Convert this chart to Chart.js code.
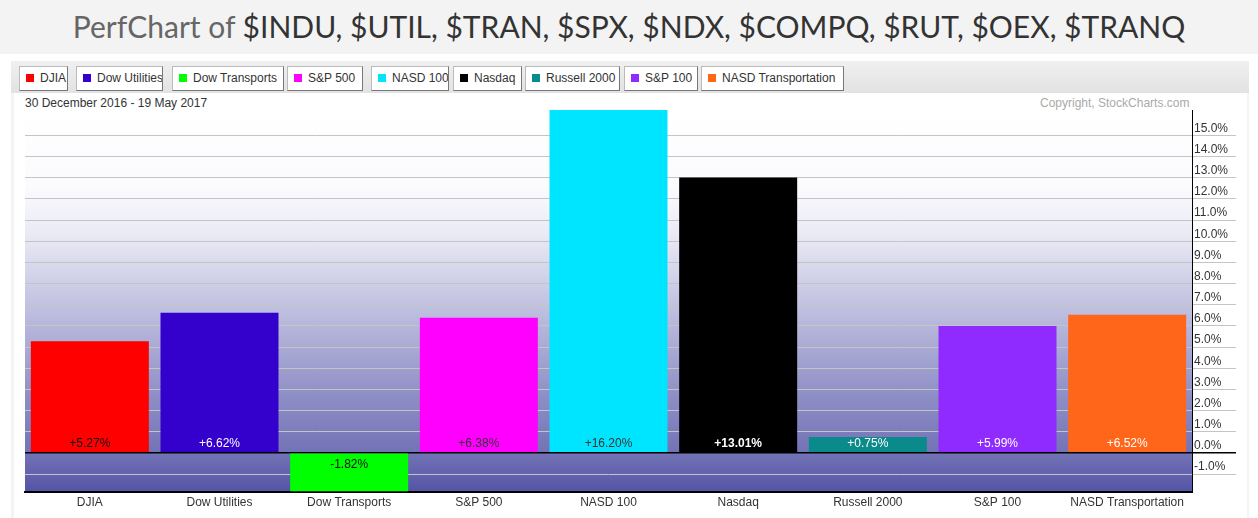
<!DOCTYPE html>
<html>
<head>
<meta charset="utf-8">
<script src="https://cdn.jsdelivr.net/npm/chart.js@4.4.1/dist/chart.umd.min.js"></script>
<style>
  html, body { margin:0; padding:0; width:1258px; height:518px; overflow:hidden; background:#fff; font-family:"Liberation Sans", Arial, sans-serif; }
  #top { position:absolute; left:0; top:0; width:1258px; height:54px; background:#f3f3f3; }
  #title { position:absolute; left:0; top:0; width:1258px; height:54px; line-height:52px; text-align:center; font-family:Lato, sans-serif; font-size:30px; color:#666; white-space:nowrap; }
  #title span { color:#333; }
  #panel { position:absolute; left:11px; top:61px; width:1238px; height:457px; background:#f4f4f4; }
  #panelInner { position:absolute; left:14px; top:93px; width:1233px; height:425px; background:#fff; }
  #legend { position:absolute; left:11px; top:61px; width:1238px; height:32px; background:linear-gradient(#f0f0f0,#e2e2e2); }
  .btn { position:absolute; top:5px; height:23px; background:#fff; border:1px solid #bbb; border-right-color:#777; border-bottom-color:#777; font-size:12px; color:#333; line-height:23px; box-sizing:content-box; white-space:nowrap; overflow:hidden; }
  .btn i { display:inline-block; width:8px; height:8px; margin:0 6px 0 6px; vertical-align:0px; }
  #date { position:absolute; left:25px; top:96px; font-size:12px; color:#333; }
  #copy { position:absolute; left:1040px; top:96px; font-size:12px; color:#aaa; }
  canvas { position:absolute; left:0; top:0; }
</style>
</head>
<body>
<div id="top"></div>
<div id="title">PerfChart of <span>$INDU, $UTIL, $TRAN, $SPX, $NDX, $COMPQ, $RUT, $OEX, $TRANQ</span></div>
<div id="panel"></div>
<div id="panelInner"></div>
<div id="legend"></div>
<div id="date">30 December 2016 - 19 May 2017</div>
<div id="copy">Copyright, StockCharts.com</div>
<canvas id="c" width="1258" height="518"></canvas>
<script>
// ---- data ----
const categories = ["DJIA", "Dow Utilities", "Dow Transports", "S&P 500", "NASD 100", "Nasdaq", "Russell 2000", "S&P 100", "NASD Transportation"];
const performance = [5.27, 6.62, -1.82, 6.38, 16.20, 13.01, 0.75, 5.99, 6.52];
const barColors = ["#ff0000", "#3300cc", "#00ff00", "#ff00ff", "#00e5ff", "#000000", "#0a8a8a", "#902bff", "#ff6619"];
const labelColors = ["#111", "#fff", "#111", "#333", "#333", "#fff", "#fff", "#fff", "#fff"];
const yTickValues = [-1, 0, 1, 2, 3, 4, 5, 6, 7, 8, 9, 10, 11, 12, 13, 14, 15];
const dateRange = "30 December 2016 - 19 May 2017";

// ---- legend (HTML buttons) ----
const legendLeft = [19, 76, 172, 287, 371, 453, 525, 624, 701];
const legendWidth = [47, 85, 110, 74, 76, 67, 93, 72, 141];
const legend = document.getElementById('legend');
categories.forEach((name, i) => {
  const b = document.createElement('div');
  b.className = 'btn';
  b.style.left = (legendLeft[i] - 11) + 'px';
  b.style.width = legendWidth[i] + 'px';
  const sq = document.createElement('i');
  sq.style.background = barColors[i];
  b.appendChild(sq);
  b.appendChild(document.createTextNode(name));
  legend.appendChild(b);
});
document.getElementById('date').textContent = dateRange;

// ---- plugins ----
const bgPlugin = {
  id: 'bg',
  beforeDraw(chart) {
    const {ctx, chartArea: a} = chart;
    const g = ctx.createLinearGradient(0, a.top, 0, a.bottom);
    g.addColorStop(0, '#ffffff');
    g.addColorStop(0.2, '#fbfbfe');
    g.addColorStop(0.33, '#e9e9f5');
    g.addColorStop(0.5, '#c4c4e2');
    g.addColorStop(0.75, '#8e8ec6');
    g.addColorStop(0.9, '#7272b6');
    g.addColorStop(1, '#5454a6');
    ctx.save();
    ctx.fillStyle = g;
    ctx.fillRect(a.left, a.top, a.right - a.left, a.bottom - a.top);
    ctx.restore();
  }
};
const valueLabels = {
  id: 'valueLabels',
  afterDatasetsDraw(chart) {
    const {ctx} = chart;
    const meta = chart.getDatasetMeta(0);
    ctx.save();
    ctx.textAlign = 'center';
    ctx.textBaseline = 'middle';
    meta.data.forEach((bar, i) => {
      const v = performance[i];
      const txt = (v >= 0 ? '+' : '') + v.toFixed(2) + '%';
      ctx.font = (i === 5 ? 'bold ' : '') + '12px "Liberation Sans", Arial, sans-serif';
      ctx.fillStyle = labelColors[i];
      const y = v >= 0 ? bar.base - 8 : bar.base + 11;
      ctx.fillText(txt, bar.x, y);
    });
    ctx.restore();
  }
};

Chart.defaults.font.family = '"Liberation Sans", Arial, sans-serif';
Chart.defaults.font.size = 12;
Chart.defaults.color = '#333';

new Chart(document.getElementById('c'), {
  type: 'bar',
  data: {
    labels: categories,
    datasets: [{
      data: performance,
      backgroundColor: barColors,
      borderWidth: 0,
      categoryPercentage: 0.91,
      barPercentage: 1.0
    }]
  },
  options: {
    responsive: false,
    animation: false,
    events: [],
    layout: { padding: { left: 25, top: 110, right: 22, bottom: 0 } },
    plugins: { legend: { display: false }, tooltip: { enabled: false } },
    scales: {
      x: {
        grid: { display: false, drawTicks: false },
        border: { display: true, color: '#000', width: 2 },
        ticks: { padding: 3, color: '#333', font: { size: 12 }, maxRotation: 0, autoSkip: false },
        afterFit(s) { s.height = 26; }
      },
      y: {
        position: 'right',
        min: -1.85,
        max: 16.2,
        afterBuildTicks(s) { s.ticks = yTickValues.map(v => ({ value: v })); },
        grid: {
          color: c => (c.tick && c.tick.value === 0) ? '#000' : '#c4c4c4',
          tickColor: c => (c.tick && c.tick.value === 0) ? '#000' : '#c4c4c4',
          lineWidth: c => (c.tick && c.tick.value === 0) ? 1.5 : 1,
          tickLength: 44,
          drawTicks: true
        },
        border: { display: true, color: '#000', width: 1 },
        ticks: {
          padding: -42,
          labelOffset: -7,
          color: '#333',
          font: { size: 12 },
          callback: v => Number(v).toFixed(1) + '%'
        },
        afterFit(s) { s.width = 44; }
      }
    }
  },
  plugins: [bgPlugin, valueLabels]
});
</script>
</body>
</html>
